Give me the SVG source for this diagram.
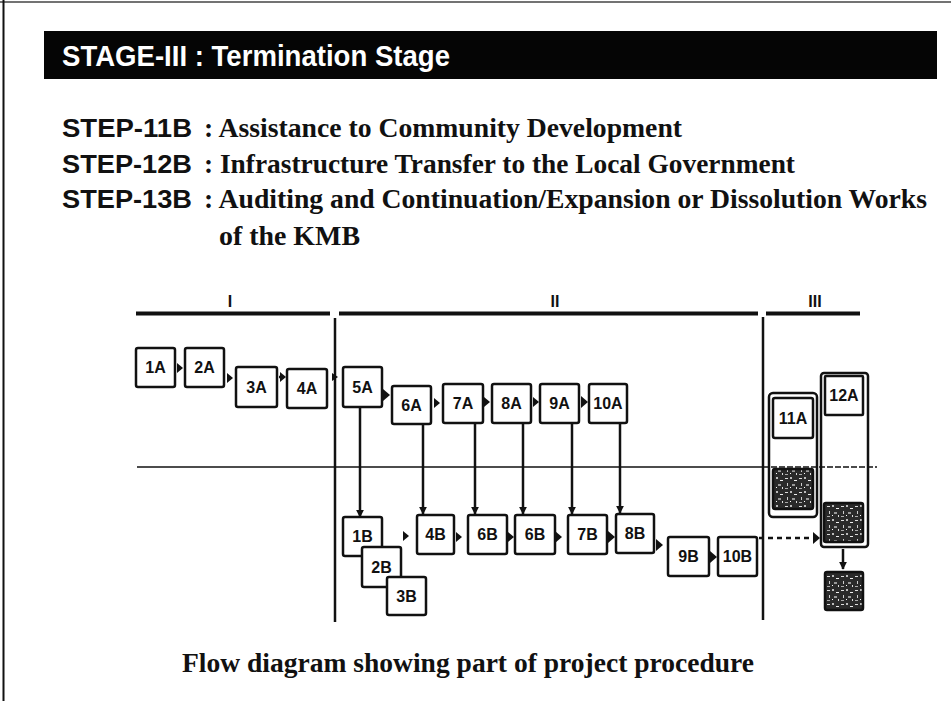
<svg xmlns="http://www.w3.org/2000/svg" width="951" height="701" viewBox="0 0 951 701">
  <defs>
    <style>
      .hdr { font-family: "Liberation Sans", Arial, sans-serif; font-weight: bold; fill: #fff; }
      .stepk { font-family: "Liberation Sans", Arial, sans-serif; font-weight: bold; fill: #111; }
      .stepv { font-family: "Liberation Serif", "Times New Roman", serif; font-weight: bold; fill: #111; }
      .cap { font-family: "Liberation Serif", "Times New Roman", serif; font-weight: bold; fill: #111; }
      .stage { font-family: "Liberation Sans", Arial, sans-serif; font-weight: bold; fill: #111; font-size: 16px; }
      .box rect { fill: #fff; stroke: #111; stroke-width: 2.5; }
      .box text { font-family: "Liberation Sans", Arial, sans-serif; font-weight: bold; font-size: 16px; fill: #111; text-anchor: middle; }
      .dark rect { fill: url(#speck); stroke: #111; stroke-width: 2.5; }
      .wrap { fill: none; stroke: #111; stroke-width: 2.5; }
      .bar { stroke: #111; stroke-width: 4; }
      .divider { stroke: #111; stroke-width: 2.5; }
      .flow { stroke: #111; stroke-width: 2.5; fill: none; }
      .head { fill: #111; }
    </style>
    <pattern id="speck" width="14" height="14" patternUnits="userSpaceOnUse">
      <rect width="14" height="14" fill="#2a2a2a"/>
      <rect x="1" y="2" width="3" height="1" fill="#ddd"/>
      <rect x="6" y="1" width="2" height="2" fill="#bbb"/>
      <rect x="10" y="4" width="3" height="1" fill="#eee"/>
      <rect x="3" y="7" width="1" height="3" fill="#ccc"/>
      <rect x="8" y="8" width="3" height="2" fill="#999"/>
      <rect x="12" y="11" width="1" height="2" fill="#ddd"/>
      <rect x="1" y="12" width="3" height="1" fill="#aaa"/>
      <rect x="6" y="11" width="1" height="1" fill="#fff"/>
    </pattern>
    <marker id="tri" viewBox="0 0 10 10" refX="9" refY="5" markerWidth="8" markerHeight="8" markerUnits="userSpaceOnUse" orient="auto">
      <path d="M0,0 L10,5 L0,10 Z" fill="#111"/>
    </marker>
  </defs>

  <!-- page -->
  <rect width="951" height="701" fill="#fff"/>
  <line x1="0" y1="2" x2="951" y2="2" stroke="#444" stroke-width="1.5"/>
  <line x1="3.5" y1="0" x2="3.5" y2="701" stroke="#111" stroke-width="2"/>

  <!-- title band -->
  <rect x="44" y="31" width="893" height="48" fill="#050505"/>
  <text class="hdr" x="62" y="66" font-size="29" textLength="388" lengthAdjust="spacingAndGlyphs">STAGE-III : Termination Stage</text>

  <!-- step list -->
  <g id="steps">
    <text class="stepk" x="62" y="137" font-size="26" textLength="130" lengthAdjust="spacingAndGlyphs">STEP-11B</text>
    <text class="stepv" x="204" y="137" font-size="28" textLength="478" lengthAdjust="spacingAndGlyphs">: Assistance to Community Development</text>
    <text class="stepk" x="62" y="173" font-size="26" textLength="130" lengthAdjust="spacingAndGlyphs">STEP-12B</text>
    <text class="stepv" x="204" y="173" font-size="28" textLength="591" lengthAdjust="spacingAndGlyphs">: Infrastructure Transfer to the Local Government</text>
    <text class="stepk" x="62" y="208" font-size="26" textLength="130" lengthAdjust="spacingAndGlyphs">STEP-13B</text>
    <text class="stepv" x="204" y="208" font-size="28" textLength="723" lengthAdjust="spacingAndGlyphs">: Auditing and Continuation/Expansion or Dissolution Works</text>
    <text class="stepv" x="219" y="245" font-size="28" textLength="141" lengthAdjust="spacingAndGlyphs">of the KMB</text>
  </g>

  <!-- stage rulers and dividers -->
  <g id="stages">
    <line class="bar" x1="136" y1="313.5" x2="330" y2="313.5"/>
    <line class="bar" x1="339" y1="313.5" x2="758" y2="313.5"/>
    <line class="bar" x1="766" y1="313.5" x2="860" y2="313.5"/>
    <text class="stage" x="230" y="307" text-anchor="middle">I</text>
    <text class="stage" x="555" y="307" text-anchor="middle">II</text>
    <text class="stage" x="815" y="307" text-anchor="middle">III</text>
    <line class="divider" x1="335" y1="318" x2="335" y2="622"/>
    <line class="divider" x1="763" y1="317" x2="763" y2="620"/>
    <line x1="137" y1="467" x2="763" y2="467" stroke="#111" stroke-width="1.5"/>
    <line x1="763" y1="467" x2="877" y2="467" stroke="#111" stroke-width="1.5" stroke-dasharray="6 2"/>
  </g>

  <!-- upper row -->
  <g id="n1A" class="box"><rect x="136" y="348" width="39" height="39" rx="2"/><text x="155.5" y="373">1A</text></g>
  <g id="n2A" class="box"><rect x="185" y="348" width="39" height="39" rx="2"/><text x="204.5" y="373">2A</text></g>
  <g id="n3A" class="box"><rect x="236" y="367" width="41" height="40" rx="2"/><text x="256.5" y="393">3A</text></g>
  <g id="n4A" class="box"><rect x="287" y="369" width="40" height="39" rx="2"/><text x="307" y="394">4A</text></g>
  <g id="n5A" class="box"><rect x="343" y="367" width="39" height="40" rx="2"/><text x="362.5" y="393">5A</text></g>
  <g id="n6A" class="box"><rect x="392" y="386" width="39" height="38" rx="2"/><text x="411.5" y="411">6A</text></g>
  <g id="n7A" class="box"><rect x="443" y="384" width="40" height="39" rx="2"/><text x="463" y="409">7A</text></g>
  <g id="n8A" class="box"><rect x="492" y="384" width="39" height="39" rx="2"/><text x="511.5" y="409">8A</text></g>
  <g id="n9A" class="box"><rect x="540" y="384" width="39" height="39" rx="2"/><text x="559.5" y="409">9A</text></g>
  <g id="n10A" class="box"><rect x="589" y="384" width="38" height="39" rx="2"/><text x="608" y="409">10A</text></g>

  <!-- lower row -->
  <g id="n1B" class="box"><rect x="343" y="517" width="39" height="39" rx="2"/><text x="362.5" y="542">1B</text></g>
  <g id="n2B" class="box"><rect x="362" y="547" width="39" height="40" rx="2"/><text x="381.5" y="573">2B</text></g>
  <g id="n3B" class="box"><rect x="387" y="577" width="39" height="38" rx="2"/><text x="406.5" y="602">3B</text></g>
  <g id="n4B" class="box"><rect x="417" y="515" width="37" height="39" rx="2"/><text x="435.5" y="540">4B</text></g>
  <g id="n6B" class="box"><rect x="468" y="515" width="39" height="39" rx="2"/><text x="487.5" y="540">6B</text></g>
  <g id="n6B2" class="box"><rect x="515" y="515" width="40" height="39" rx="2"/><text x="535" y="540">6B</text></g>
  <g id="n7B" class="box"><rect x="568" y="515" width="39" height="39" rx="2"/><text x="587.5" y="540">7B</text></g>
  <g id="n8B" class="box"><rect x="616" y="514" width="38" height="39" rx="2"/><text x="635" y="539">8B</text></g>
  <g id="n9B" class="box"><rect x="668" y="537" width="41" height="39" rx="2"/><text x="688.5" y="562">9B</text></g>
  <g id="n10B" class="box"><rect x="718" y="537" width="39" height="39" rx="2"/><text x="737.5" y="562">10B</text></g>

  <!-- termination stage -->
  <g id="g11">
    <rect class="wrap" x="769" y="393" width="48" height="124" rx="4"/>
    <g id="n11A" class="box"><rect x="773" y="398" width="40" height="40" rx="2"/><text x="793" y="424">11A</text></g>
    <g id="n11B" class="dark"><rect x="773" y="469" width="40" height="40" rx="2"/></g>
  </g>
  <g id="g12">
    <rect class="wrap" x="821" y="373" width="47" height="174" rx="3"/>
    <g id="n12A" class="box"><rect x="825" y="376" width="38" height="39" rx="1"/><text x="844" y="401">12A</text></g>
    <g id="n12B" class="dark"><rect x="824" y="503" width="39" height="39" rx="2"/></g>
  </g>
  <g id="n13B" class="dark"><rect x="825" y="572" width="38" height="38" rx="2"/></g>

  <!-- connectors -->
  <g id="connectors">
    <!-- upper row heads -->
    <path class="head" d="M177,363 L183,368 L177,373 Z"/>
    <path class="head" d="M227,373 L233,378 L227,383 Z"/>
    <line class="flow" x1="279" y1="377" x2="281" y2="377"/>
    <path class="head" d="M280,372 L286,377 L280,382 Z"/>
    <path class="head" d="M332,373 L338,377 L332,381 Z"/>
    <path class="head" d="M383,389 L390,395 L383,401 Z"/>
    <path class="head" d="M434,398 L440,403 L434,408 Z"/>
    <path class="head" d="M484,397 L490,402 L484,407 Z"/>
    <path class="head" d="M533,397 L539,402 L533,407 Z"/>
    <path class="head" d="M581,396 L588,402 L581,408 Z"/>

    <!-- drops from upper to lower row -->
    <line class="flow" x1="360" y1="407" x2="360" y2="517" marker-end="url(#tri)"/>
    <line class="flow" x1="423" y1="424" x2="423" y2="514" marker-end="url(#tri)"/>
    <line class="flow" x1="475" y1="423" x2="475" y2="514" marker-end="url(#tri)"/>
    <line class="flow" x1="523" y1="423" x2="523" y2="514" marker-end="url(#tri)"/>
    <line class="flow" x1="572" y1="423" x2="572" y2="514" marker-end="url(#tri)"/>
    <line class="flow" x1="620" y1="423" x2="620" y2="513" marker-end="url(#tri)"/>

    <!-- lower row heads -->
    <path class="head" d="M403,531 L409,536 L403,541 Z"/>
    <path class="head" d="M456,532 L462,537 L456,542 Z"/>
    <path class="head" d="M508,532 L514,537 L508,542 Z"/>
    <path class="head" d="M555,531 L562,537 L555,543 Z"/>
    <path class="head" d="M608,531 L615,537 L608,543 Z"/>
    <path class="head" d="M656,539 L663,545 L656,551 Z"/>
    <path class="head" d="M710,551 L717,557 L710,563 Z"/>

    <!-- hand-over to termination stage -->
    <line x1="759" y1="538" x2="812" y2="538" stroke="#111" stroke-width="2.5" stroke-dasharray="5 4"/>
    <path class="head" d="M813,532 L820,538 L813,544 Z"/>
    <line class="flow" x1="843" y1="549" x2="843" y2="569" marker-end="url(#tri)"/>
  </g>

  <!-- caption -->
  <text class="cap" x="182" y="672" font-size="27" textLength="572" lengthAdjust="spacingAndGlyphs">Flow diagram showing part of project procedure</text>
</svg>
